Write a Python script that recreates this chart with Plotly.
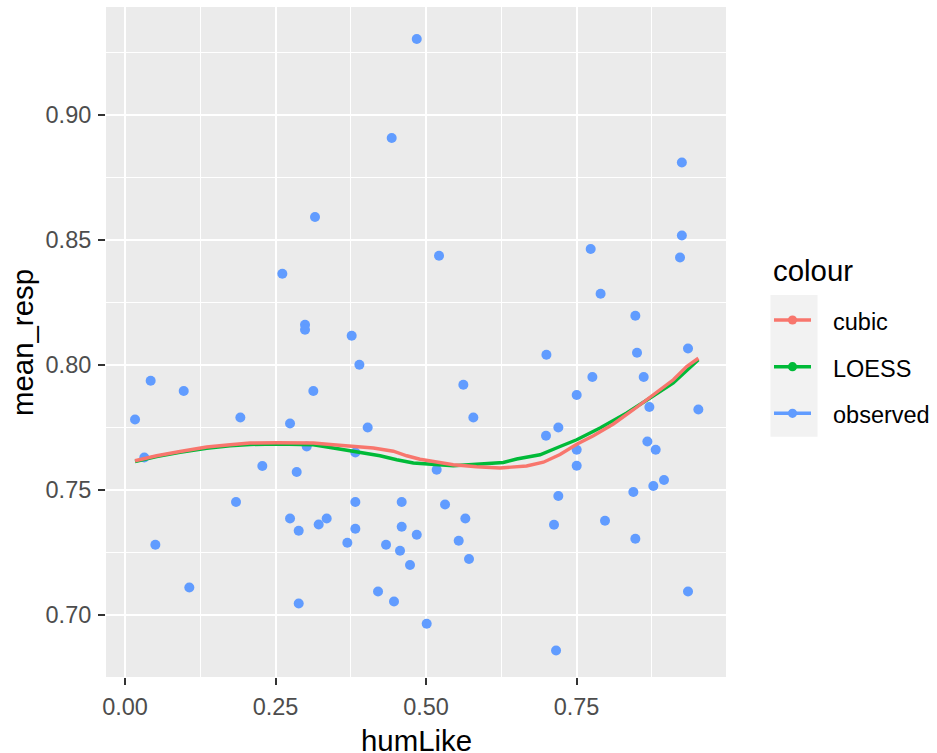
import plotly.graph_objects as go

# ---------------- data ----------------
hum_like = [0.0166, 0.0320, 0.0426, 0.0504, 0.0975, 0.1068, 0.1844, 0.1916, 0.2281, 0.2613,
            0.2741, 0.2741, 0.2852, 0.2885, 0.2885, 0.2990, 0.2990, 0.3018, 0.3128, 0.3156,
            0.3217, 0.3350, 0.3693, 0.3765, 0.3826, 0.3826, 0.3826, 0.3893, 0.4031, 0.4203,
            0.4336, 0.4430, 0.4468, 0.4568, 0.4596, 0.4596, 0.4734, 0.4846, 0.4846, 0.5011,
            0.5177, 0.5216, 0.5316, 0.5543, 0.5620, 0.5653, 0.5714, 0.5786, 0.6993, 0.7000,
            0.7126, 0.7160, 0.7198, 0.7198, 0.7503, 0.7503, 0.7503, 0.7735, 0.7763, 0.7900,
            0.7973, 0.8444, 0.8477, 0.8477, 0.8505, 0.8616, 0.8677, 0.8710, 0.8776, 0.8815,
            0.8953, 0.9219, 0.9250, 0.9250, 0.9352, 0.9352, 0.9524]
mean_resp = [0.7783, 0.7631, 0.7938, 0.7282, 0.7897, 0.7111, 0.7453, 0.7791, 0.7597, 0.8366,
             0.7767, 0.7387, 0.7573, 0.7338, 0.7047, 0.8162, 0.8142, 0.7675, 0.7897, 0.8593,
             0.7363, 0.7387, 0.7290, 0.8118, 0.7651, 0.7453, 0.7346, 0.8002, 0.7751, 0.7095,
             0.7282, 0.8909, 0.7055, 0.7258, 0.7453, 0.7354, 0.7201, 0.9305, 0.7322, 0.6966,
             0.7582, 0.8438, 0.7443, 0.7298, 0.7922, 0.7387, 0.7225, 0.7791, 0.7718, 0.8042,
             0.7362, 0.6859, 0.7751, 0.7477, 0.7881, 0.7662, 0.7598, 0.8465, 0.7953, 0.8286,
             0.7378, 0.7493, 0.8198, 0.7306, 0.8050, 0.7953, 0.7695, 0.7833, 0.7517, 0.7662,
             0.7541, 0.8431, 0.8811, 0.8519, 0.8067, 0.7095, 0.7823]

cubic_x = [0.0166, 0.0526, 0.0914, 0.1357, 0.1744, 0.2076, 0.2520, 0.3128, 0.3460, 0.3848,
           0.4125, 0.4457, 0.4679, 0.4900, 0.5120, 0.5453, 0.5840, 0.6230, 0.6670, 0.6950,
           0.7226, 0.7503, 0.7780, 0.8112, 0.8444, 0.8776, 0.9108, 0.9330, 0.9524]
cubic_y = [0.7618, 0.7638, 0.7655, 0.7673, 0.7682, 0.7689, 0.7690, 0.7689, 0.7682, 0.7675,
           0.7669, 0.7656, 0.7638, 0.7624, 0.7615, 0.7602, 0.7594, 0.7589, 0.7597, 0.7612,
           0.7643, 0.7684, 0.7718, 0.7765, 0.7822, 0.7882, 0.7942, 0.7995, 0.8028]

loess_x = [0.0166, 0.0526, 0.0914, 0.1357, 0.1744, 0.2076, 0.2520, 0.3128, 0.3460, 0.3958,
           0.4236, 0.4513, 0.4790, 0.5453, 0.5952, 0.6284, 0.6506, 0.6894, 0.7226, 0.7503,
           0.7890, 0.8334, 0.8721, 0.9108, 0.9524]
loess_y = [0.7615, 0.7635, 0.7652, 0.7668, 0.7678, 0.7683, 0.7685, 0.7682, 0.7669, 0.7651,
           0.7638, 0.7622, 0.7609, 0.7598, 0.7606, 0.7611, 0.7625, 0.7642, 0.7675, 0.7702,
           0.7749, 0.7809, 0.7869, 0.7929, 0.8022]

legend_labels = ["cubic", "LOESS", "observed"]
legend_colors = ["#F8766D", "#00BA38", "#619CFF"]

x_ticks = [0.00, 0.25, 0.50, 0.75]
x_tick_labels = ["0.00", "0.25", "0.50", "0.75"]
x_minor = [0.125, 0.375, 0.625, 0.875]
y_ticks = [0.70, 0.75, 0.80, 0.85, 0.90]
y_tick_labels = ["0.70", "0.75", "0.80", "0.85", "0.90"]
y_minor = [0.725, 0.775, 0.825, 0.875, 0.925]

# ---------------- layout geometry ----------------
W, H = 937, 753
L, R, T, B = 106, 211, 7, 76
PW, PH = W - L - R, H - T - B
FONT = "Arial, Liberation Sans, sans-serif"

def px(xp):
    return (xp - L) / PW

def py(yp):
    return (H - B - yp) / PH

fig = go.Figure()
fig.add_trace(go.Scatter(x=hum_like, y=mean_resp, mode="markers",
                         marker=dict(color=legend_colors[2], size=10, line=dict(width=0)),
                         showlegend=False, name="observed"))
fig.add_trace(go.Scatter(x=loess_x, y=loess_y, mode="lines",
                         line=dict(color=legend_colors[1], width=3.4),
                         showlegend=False, name="LOESS"))
fig.add_trace(go.Scatter(x=cubic_x, y=cubic_y, mode="lines",
                         line=dict(color=legend_colors[0], width=3.4),
                         showlegend=False, name="cubic"))

axis_common = dict(
    ticks="outside", ticklen=7, tickwidth=1.6, tickcolor="#333333",
    showgrid=True, gridcolor="white", gridwidth=2.2,
    zeroline=False, showline=False,
    tickfont=dict(family=FONT, size=23.5, color="#4D4D4D"),
    tickmode="array",
)
fig.update_xaxes(range=[-0.0316, 0.9983], tickvals=x_ticks, ticktext=x_tick_labels,
                 minor=dict(tickmode="array", tickvals=x_minor, showgrid=True,
                            gridcolor="white", gridwidth=1.1, ticks=""),
                 ticklabelstandoff=2, **axis_common)
fig.update_yaxes(range=[0.6753, 0.9433], tickvals=y_ticks, ticktext=y_tick_labels,
                 minor=dict(tickmode="array", tickvals=y_minor, showgrid=True,
                            gridcolor="white", gridwidth=1.1, ticks=""),
                 ticklabelstandoff=2, **axis_common)

annotations = [
    dict(text="humLike", x=px((L + W - R) / 2), y=py(740), xref="paper", yref="paper",
         xanchor="center", yanchor="middle", showarrow=False,
         font=dict(family=FONT, size=29.4, color="black")),
    dict(text="mean_resp", x=px(22), y=py(342), xref="paper", yref="paper",
         xanchor="center", yanchor="middle", showarrow=False, textangle=-90,
         font=dict(family=FONT, size=29.4, color="black")),
    dict(text="colour", x=px(771), y=py(270.5), xref="paper", yref="paper",
         xanchor="left", yanchor="middle", showarrow=False,
         font=dict(family=FONT, size=29.4, color="black")),
]
shapes = [
    dict(type="rect", xref="paper", yref="paper", x0=px(770.5), x1=px(817.5),
         y0=py(295), y1=py(436.7), fillcolor="#F2F2F2", line=dict(width=0), layer="below"),
]
key_centers = [320, 366.7, 413.3]
text_centers = [322.5, 369, 415]
for lab, col, kc, tc in zip(legend_labels, legend_colors, key_centers, text_centers):
    shapes.append(dict(type="line", xref="paper", yref="paper", x0=px(774), x1=px(811),
                       y0=py(kc), y1=py(kc), line=dict(color=col, width=3.4)))
    shapes.append(dict(type="circle", xref="paper", yref="paper",
                       xsizemode="pixel", ysizemode="pixel",
                       xanchor=px(792.5), yanchor=py(kc), x0=-4.6, x1=4.6, y0=-4.6, y1=4.6,
                       fillcolor=col, line=dict(width=0)))
    annotations.append(dict(text=lab, x=px(831), y=py(tc), xref="paper", yref="paper",
                            xanchor="left", yanchor="middle", showarrow=False,
                            font=dict(family=FONT, size=23.5, color="black")))

fig.update_layout(
    width=W, height=H, margin=dict(l=L, r=R, t=T, b=B, pad=0),
    paper_bgcolor="white", plot_bgcolor="#EBEBEB",
    showlegend=False, annotations=annotations, shapes=shapes,
    font=dict(family=FONT),
)

fig.write_html(
    "out.html",
    config={"displayModeBar": False},
    post_script="document.body.style.margin='0';document.body.style.padding='0';"
                "document.documentElement.style.overflow='hidden';",
)
